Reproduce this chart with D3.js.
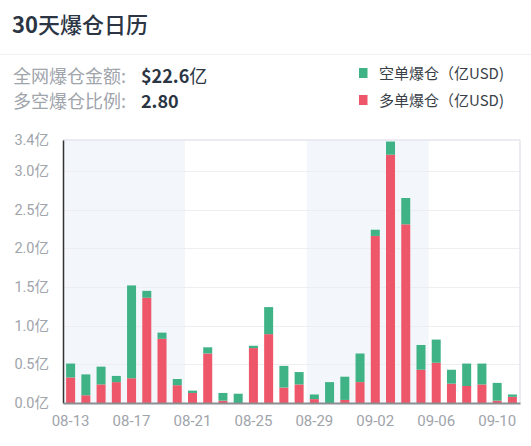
<!DOCTYPE html>
<html><head><meta charset="utf-8">
<script src="https://cdn.jsdelivr.net/npm/d3@7"></script>
<style>
html,body{margin:0;padding:0;background:#fff;}
svg{display:block;font-family:"Noto Sans CJK SC","Noto Sans",Roboto,sans-serif;}
</style></head>
<body>
<svg id="c" width="531" height="446"></svg>
<script>
const dates = ["08-13","08-14","08-15","08-16","08-17","08-18","08-19","08-20","08-21","08-22","08-23","08-24","08-25","08-26","08-27","08-28","08-29","08-30","08-31","09-01","09-02","09-03","09-04","09-05","09-06","09-07","09-08","09-09","09-10","09-11"];
const longLiq  = [0.33,0.10,0.24,0.27,0.32,1.36,0.83,0.23,0.13,0.64,0.03,0.00,0.71,0.89,0.20,0.24,0.05,0.00,0.04,0.27,2.16,3.21,2.31,0.43,0.52,0.25,0.22,0.24,0.03,0.08];
const shortLiq = [0.18,0.27,0.23,0.08,1.20,0.09,0.08,0.08,0.03,0.08,0.10,0.12,0.03,0.35,0.28,0.16,0.06,0.27,0.30,0.37,0.08,0.17,0.34,0.32,0.30,0.18,0.29,0.27,0.23,0.03];
const yTicks = [0,0.5,1.0,1.5,2.0,2.5,3.0,3.4];
const xTickLabels = ["08-13","08-17","08-21","08-25","08-29","09-02","09-06","09-10"];
const shadedRanges = [["08-13","08-20"],["08-29","09-05"]];
const titleNum = "30", titleText = "天爆仓日历";
const totalLabel = "全网爆仓金额:", totalValue = "$22.6", totalUnit = "亿";
const ratioLabel = "多空爆仓比例:", ratioValue = "2.80";
const legendItems = [{name:"空单爆仓（亿USD)", color:"#3fb386"},{name:"多单爆仓（亿USD)", color:"#ee5669"}];

const svg = d3.select("#c");
const m = {l:63, r:520, t:140, b:403};

// header
const tt = svg.append("text").attr("x",12).attr("y",33).attr("font-size",22).attr("fill","#2b3543");
tt.append("tspan").attr("font-weight",700).text(titleNum);
tt.append("tspan").attr("font-weight",500).text(titleText);
svg.append("line").attr("x1",0).attr("x2",531).attr("y1",54.5).attr("y2",54.5).attr("stroke","#f0f0f2");

svg.append("text").attr("x",13).attr("y",82.5).attr("font-size",18).attr("fill","#a0a4ab").text(totalLabel);
const tv = svg.append("text").attr("x",141).attr("y",82.5).attr("font-size",18).attr("fill","#2b3543");
tv.append("tspan").attr("font-weight",700).text(totalValue);
tv.append("tspan").text(totalUnit);
svg.append("text").attr("x",13).attr("y",107.5).attr("font-size",18).attr("fill","#a0a4ab").text(ratioLabel);
svg.append("text").attr("x",141).attr("y",107.5).attr("font-size",18).attr("font-weight",700).attr("fill","#2b3543").text(ratioValue);

const lg = svg.selectAll("g.lg").data(legendItems).join("g").attr("class","lg")
  .attr("transform",(d,i)=>`translate(359,${68+i*27})`);
lg.append("rect").attr("width",8.5).attr("height",10).attr("fill",d=>d.color);
lg.append("text").attr("x",20).attr("y",10.5).attr("font-size",15).attr("fill","#3a3f47").text(d=>d.name);

// scales
const x = d3.scaleBand().domain(dates).range([m.l,m.r]).paddingInner(0.4).paddingOuter(0.2);
const y = d3.scaleLinear().domain([0,3.4]).range([m.b,m.t]);

// shaded bands
shadedRanges.forEach(([a,b])=>{
  const x0 = m.l + dates.indexOf(a)*((m.r-m.l)/dates.length);
  const x1 = m.l + (dates.indexOf(b)+1)*((m.r-m.l)/dates.length);
  svg.append("rect").attr("x",x0).attr("y",m.t).attr("width",x1-x0).attr("height",m.b-m.t).attr("fill","#f3f6fa");
});

// grid
svg.append("g").selectAll("line").data(yTicks.filter(t=>t>0 && t<3.4)).join("line")
  .attr("x1",m.l).attr("x2",m.r).attr("y1",d=>Math.round(y(d))+0.5).attr("y2",d=>Math.round(y(d))+0.5)
  .attr("stroke","#eceef2");
// borders
svg.append("line").attr("x1",m.l).attr("x2",m.r).attr("y1",m.t).attr("y2",m.t).attr("stroke","#e4e4ec").attr("stroke-width",1.5);
svg.append("line").attr("x1",m.r).attr("x2",m.r).attr("y1",m.t).attr("y2",m.b).attr("stroke","#e4e4ec").attr("stroke-width",1.5);

// bars
const data = dates.map((d,i)=>({d, long:longLiq[i], short:shortLiq[i]}));
const bw = 9;
const bx = d => x(d.d) + x.bandwidth()/2 - bw/2;
svg.append("g").selectAll("rect").data(data).join("rect")
  .attr("x",bx).attr("width",bw).attr("y",d=>y(d.long)).attr("height",d=>y(0)-y(d.long)).attr("fill","#ee5669");
svg.append("g").selectAll("rect").data(data).join("rect")
  .attr("x",bx).attr("width",bw).attr("y",d=>y(d.long+d.short)).attr("height",d=>y(d.long)-y(d.long+d.short)).attr("fill","#3fb386");

// axes
const yAxis = d3.axisLeft(y).tickValues(yTicks).tickSize(0).tickPadding(14).tickFormat(d=>d3.format(".1f")(d)+"亿");
const gy = svg.append("g").attr("transform",`translate(${m.l},0)`).call(yAxis);
gy.select(".domain").attr("stroke","#333").attr("stroke-width",1.5);
gy.selectAll("text").attr("font-size",14.5).attr("fill","#a0a4ab").attr("font-family","Roboto,'Noto Sans CJK SC',sans-serif");

const xAxis = d3.axisBottom(x).tickValues(xTickLabels).tickSize(0).tickPadding(12);
const gx = svg.append("g").attr("transform",`translate(0,${m.b})`).call(xAxis);
gx.select(".domain").attr("stroke","#8a8d92").attr("stroke-width",2);
gx.selectAll("text").attr("font-size",15).attr("fill","#a0a4ab").attr("font-family","Roboto,sans-serif");
</script>
</body></html>
